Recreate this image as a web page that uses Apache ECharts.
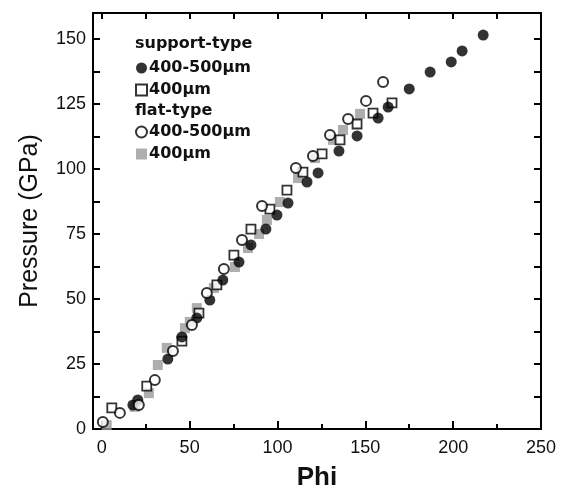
<!DOCTYPE html>
<html>
<head>
<meta charset="utf-8">
<script src="https://cdn.jsdelivr.net/npm/echarts@6/dist/echarts.min.js"></script>
<style>html,body{margin:0;padding:0;background:#fff;}#c{width:565px;height:491px;}</style>
</head>
<body>
<div id="c"></div>
<script>
// Data: [Phi, Pressure (GPa)]
var supportBig = [[17.7,9.2],[20.5,11.2],[37.6,26.9],[45.6,35.4],[54.1,42.7],[61.5,49.6],[68.9,57.3],[78.1,64.2],[84.9,70.8],[93.4,76.9],[99.7,82.3],[106,86.9],[116.8,95],[123.1,98.5],[135,106.9],[145.3,112.7],[157.3,119.6],[163,123.8],[175,130.8],[186.9,137.3],[198.9,141.2],[205.1,145.4],[217.1,151.5]];
var supportSmall = [[5.7,8.1],[25.6,16.5],[45.6,33.8],[55.3,44.6],[65.5,55.4],[75.2,66.9],[84.9,76.9],[95.7,84.6],[105.4,91.9],[114.5,98.8],[125.4,105.8],[135.6,111.2],[145.3,117.3],[154.4,121.5],[165.2,125.4]];
var flatBig = [[0.6,2.7],[10.3,6.2],[21.1,9.2],[30.2,18.8],[40.5,30],[51.3,40],[59.8,52.3],[69.5,61.5],[79.8,72.7],[91.2,85.8],[110.5,100.4],[120.2,105],[129.9,113.1],[140.2,119.2],[150.4,126.2],[160.1,133.5]];
var flatSmall = [[2.8,1.5],[18.8,8.5],[26.8,13.8],[31.9,24.6],[37,31.2],[47.3,38.8],[50.1,41.2],[54.1,46.5],[63.8,54.2],[75.8,62.3],[83.2,69.6],[89.5,75],[94,80.4],[101.4,87.3],[111.7,96.5],[121.4,104.2],[131.6,111.2],[137.3,115],[147,121.2]];
var seriesNames = ['400-500\u03bcm (support)', '400\u03bcm (support)', '400-500\u03bcm (flat)', '400\u03bcm (flat)'];
var legendLabels = ['400-500\u03bcm', '400\u03bcm', '400-500\u03bcm', '400\u03bcm'];
var groupTitles = ['support-type', 'flat-type'];
var xMajorTicks = [0, 50, 100, 150, 200, 250];
var xMinorTicks = [25, 75, 125, 175, 225];
var xAllTicks = [0, 25, 50, 75, 100, 125, 150, 175, 200, 225, 250];
var yLabelTicks = [0, 25, 50, 75, 100, 125, 150];
var yAllTicks = [0, 12.5, 25, 37.5, 50, 62.5, 75, 87.5, 100, 112.5, 125, 137.5, 150];

var chart = echarts.init(document.getElementById('c'), null, {renderer: 'canvas'});
var lineStyle = {color: '#000', width: 2};
var legendFmt = function (name) { return legendLabels[seriesNames.indexOf(name)]; };
var legendText = {fontFamily: 'DejaVu Sans', fontWeight: 'bold', fontSize: 16, color: '#111', padding: [0, 0, 0, -3]};
chart.setOption({
  animation: false,
  backgroundColor: '#fff',
  grid: {left: 93, right: 24, top: 13, bottom: 62, outerBoundsMode: 'none', containLabel: false},
  xAxis: [
    {type: 'value', position: 'bottom', min: -5, max: 250,
      name: 'Phi', nameLocation: 'middle', nameGap: 36,
      nameTextStyle: {fontFamily: 'Liberation Sans', fontWeight: 'bold', fontSize: 26, color: '#111'},
      axisLine: {show: true, onZero: false, lineStyle: lineStyle},
      axisTick: {show: true, inside: true, length: 8, customValues: xMajorTicks, lineStyle: {color: '#000', width: 2}},
      axisLabel: {show: true, customValues: xMajorTicks, margin: 10, fontFamily: 'Liberation Sans', fontSize: 18, color: '#111'},
      splitLine: {show: false}},
    {type: 'value', position: 'bottom', min: -5, max: 250,
      axisLine: {show: false, onZero: false},
      axisTick: {show: true, inside: true, length: 5, customValues: xMinorTicks, lineStyle: {color: '#000', width: 2}},
      axisLabel: {show: false}, splitLine: {show: false}},
    {type: 'value', position: 'top', min: -5, max: 250,
      axisLine: {show: true, onZero: false, lineStyle: lineStyle},
      axisTick: {show: true, inside: true, length: 6, customValues: xAllTicks, lineStyle: {color: '#000', width: 2}},
      axisLabel: {show: false}, splitLine: {show: false}}
  ],
  yAxis: [
    {type: 'value', position: 'left', min: 0, max: 160,
      name: 'Pressure (GPa)', nameLocation: 'middle', nameGap: 50,
      nameTextStyle: {fontFamily: 'Liberation Sans', fontSize: 25, color: '#111'},
      axisLine: {show: true, onZero: false, lineStyle: lineStyle},
      axisTick: {show: true, inside: true, length: 7, customValues: yAllTicks, lineStyle: {color: '#000', width: 2}},
      axisLabel: {show: true, customValues: yLabelTicks, margin: 7, fontFamily: 'Liberation Sans', fontSize: 18, color: '#111'},
      splitLine: {show: false}},
    {type: 'value', position: 'right', min: 0, max: 160,
      axisLine: {show: true, onZero: false, lineStyle: lineStyle},
      axisTick: {show: true, inside: true, length: 7, customValues: yAllTicks, lineStyle: {color: '#000', width: 2}},
      axisLabel: {show: false}, splitLine: {show: false}}
  ],
  legend: [
    {orient: 'vertical', left: 135, top: 60, padding: 0, itemWidth: 11, itemHeight: 11, itemGap: 6,
      data: [seriesNames[0], seriesNames[1]], formatter: legendFmt, textStyle: legendText, selectedMode: false},
    {orient: 'vertical', left: 135, top: 124, padding: 0, itemWidth: 11, itemHeight: 11, itemGap: 6,
      data: [seriesNames[2], seriesNames[3]], formatter: legendFmt, textStyle: legendText, selectedMode: false}
  ],
  graphic: [
    {type: 'text', left: 135, top: 36, style: {text: groupTitles[0], font: 'bold 16px "DejaVu Sans"', fill: '#111'}},
    {type: 'text', left: 135, top: 103, style: {text: groupTitles[1], font: 'bold 16px "DejaVu Sans"', fill: '#111'}}
  ],
  series: [
    {name: seriesNames[3], type: 'scatter', data: flatSmall, symbol: 'rect', symbolSize: 10,
      itemStyle: {color: '#9a9a9a'}},
    {name: seriesNames[1], type: 'scatter', data: supportSmall, symbol: 'rect', symbolSize: 9,
      itemStyle: {color: '#fff', borderColor: '#000', borderWidth: 1.8}},
    {name: seriesNames[0], type: 'scatter', data: supportBig, symbol: 'circle', symbolSize: 11,
      itemStyle: {color: '#000'}},
    {name: seriesNames[2], type: 'scatter', data: flatBig, symbol: 'circle', symbolSize: 10,
      itemStyle: {color: '#fff', borderColor: '#000', borderWidth: 2}}
  ]
});
</script>
</body>
</html>
